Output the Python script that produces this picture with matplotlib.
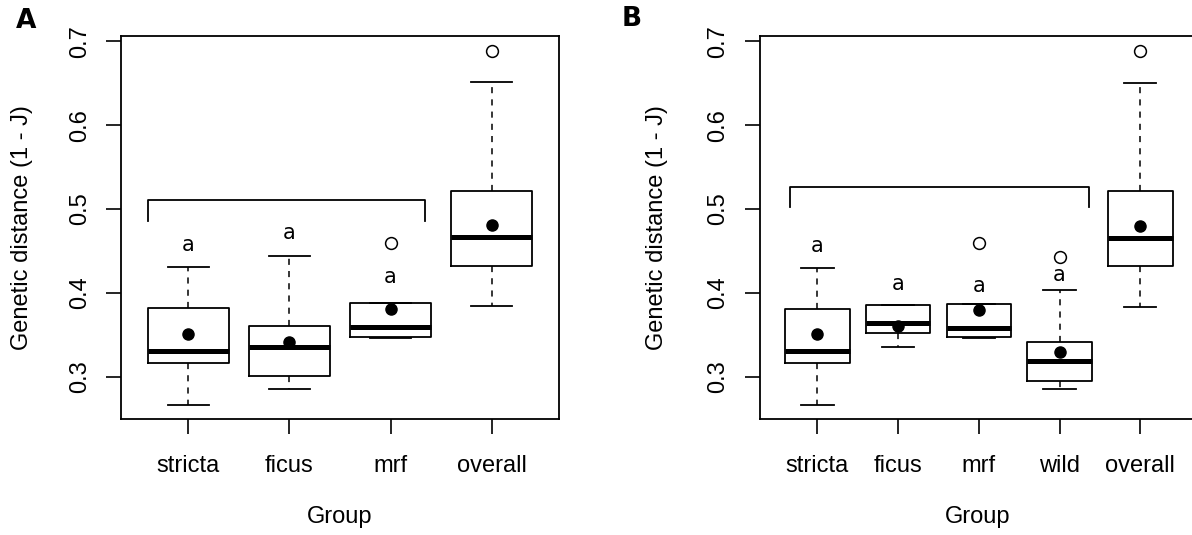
import matplotlib
matplotlib.use('Agg')
import matplotlib.pyplot as plt

# valores (cajas tipo R)
grupos_a = ['stricta', 'ficus', 'mrf', 'overall']
whislo_a = [0.266, 0.286, 0.3465, 0.384]
q1_a = [0.317, 0.301, 0.3476, 0.432]
med_a = [0.331, 0.336, 0.359, 0.467]
q3_a = [0.382, 0.360, 0.388, 0.522]
whishi_a = [0.431, 0.444, 0.388, 0.651]
media_a = [0.351, 0.341, 0.381, 0.481]
atipicos_a = [[], [], [0.459], [0.689]]
letras_a = ['a', 'a', 'a']
letras_y_a = [0.457, 0.471, 0.419]
corchete_a = [0.60, 3.34, 0.511, 0.486]

grupos_b = ['stricta', 'ficus', 'mrf', 'wild', 'overall']
whislo_b = [0.266, 0.335, 0.3465, 0.286, 0.383]
q1_b = [0.316, 0.352, 0.3476, 0.295, 0.432]
med_b = [0.331, 0.364, 0.358, 0.319, 0.466]
q3_b = [0.381, 0.385, 0.387, 0.342, 0.521]
whishi_b = [0.430, 0.385, 0.387, 0.404, 0.650]
media_b = [0.351, 0.361, 0.380, 0.330, 0.480]
atipicos_b = [[], [], [0.459], [0.443], [0.688]]
letras_b = ['a', 'a', 'a', 'a']
letras_y_b = [0.456, 0.411, 0.408, 0.421]
corchete_b = [0.66, 4.36, 0.526, 0.502]

yticks = [0.3, 0.4, 0.5, 0.6, 0.7]

fuente = 'Liberation Sans'
letra = 17


def panel(ax, grupos, wlo, q1, med, q3, whi, media, atip, letras, letras_y, corchete, xlim):
    stats = []
    for i in range(len(grupos)):
        stats.append({'whislo': wlo[i], 'q1': q1[i], 'med': med[i], 'q3': q3[i],
                      'whishi': whi[i], 'mean': media[i], 'fliers': atip[i], 'label': grupos[i]})
    pos = list(range(1, len(grupos) + 1))
    ax.bxp(stats, positions=pos, widths=0.8, capwidths=0.4, showmeans=True,
           boxprops=dict(color='black', linewidth=1.3),
           medianprops=dict(color='black', linewidth=3.6, solid_capstyle='butt'),
           whiskerprops=dict(color='black', linewidth=1.1, linestyle=(0, (4, 4))),
           capprops=dict(color='black', linewidth=1.3),
           meanprops=dict(marker='o', markerfacecolor='black', markeredgecolor='black', markersize=8),
           flierprops=dict(marker='o', markerfacecolor='none', markeredgecolor='black',
                           markersize=8.5, markeredgewidth=1.1))
    # letras de significancia
    for i in range(len(letras)):
        ax.text(pos[i], letras_y[i], letras[i], ha='center', va='center',
                fontsize=15, family='DejaVu Sans')
    # corchete
    x0, x1, ytop, yend = corchete
    ax.plot([x0, x0, x1, x1], [yend, ytop, ytop, yend], color='black', linewidth=1.3)
    ax.set_xlim(xlim)
    ax.set_ylim(0.2493, 0.706)
    ax.set_yticks(yticks)
    ax.set_yticklabels([str(v) for v in yticks], rotation=90, va='center',
                       family=fuente, fontsize=letra)
    ax.set_xticks(pos)
    ax.set_xticklabels(grupos, family=fuente, fontsize=letra)
    ax.tick_params(axis='both', length=10.8, width=1.2, direction='out')
    ax.tick_params(axis='y', pad=11)
    ax.tick_params(axis='x', pad=15)
    for s in ax.spines.values():
        s.set_linewidth(1.3)


fig = plt.figure(figsize=(11.92, 5.35), dpi=100)
ax1 = fig.add_axes([0.1015, 0.2163, 0.3675, 0.7159])
ax2 = fig.add_axes([0.6373, 0.2163, 0.3667, 0.7159])

panel(ax1, grupos_a, whislo_a, q1_a, med_a, q3_a, whishi_a, media_a, atipicos_a,
      letras_a, letras_y_a, corchete_a, (0.334, 4.666))
panel(ax2, grupos_b, whislo_b, q1_b, med_b, q3_b, whishi_b, media_b, atipicos_b,
      letras_b, letras_y_b, corchete_b, (0.284, 5.70))

# etiquetas de ejes
fig.text(21.7 / 1192, 1 - 227.8 / 535, 'Genetic distance (1 - J)', rotation=90,
         ha='center', va='center', family=fuente, fontsize=letra)
fig.text(657.5 / 1192, 1 - 227.8 / 535, 'Genetic distance (1 - J)', rotation=90,
         ha='center', va='center', family=fuente, fontsize=letra)
fig.text(340 / 1192, 1 - 517 / 535, 'Group', ha='center', va='center',
         family=fuente, fontsize=letra)
fig.text(978 / 1192, 1 - 517 / 535, 'Group', ha='center', va='center',
         family=fuente, fontsize=letra)

# letras de panel
fig.text(26.3 / 1192, 1 - 20.7 / 535, 'A', ha='center', va='center',
         family='DejaVu Sans', fontweight='bold', fontsize=19)
fig.text(632 / 1192, 1 - 19.5 / 535, 'B', ha='center', va='center',
         family='DejaVu Sans', fontweight='bold', fontsize=19)

plt.savefig('out.png', dpi=100)
